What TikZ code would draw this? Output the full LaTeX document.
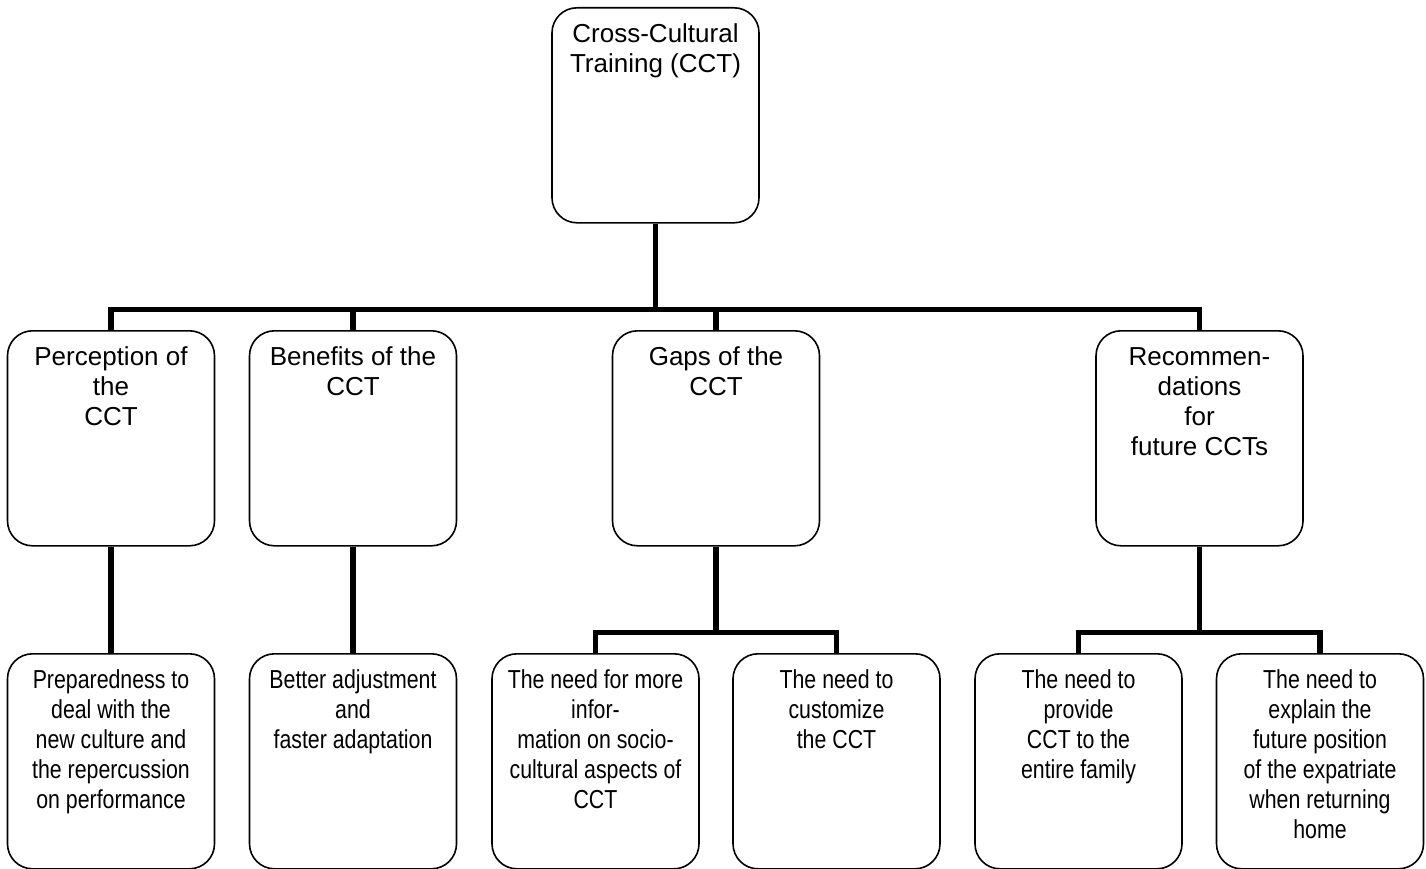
\documentclass[tikz,border=0pt]{standalone}
\usepackage{fontspec}
\setmainfont{Liberation Sans}
\newfontfamily\narrowfont{Liberation Sans}[FakeStretch=0.82]
\usepackage{tikz}

\newcommand{\celltext}[1]{\parbox[t][215pt][t]{207pt}{\fontsize{26}{30}\selectfont\centering\rule{0pt}{35pt}#1}}

\begin{document}
\begin{tikzpicture}
[x=1pt,y=-1pt,every node/.style={draw,rounded corners=25pt,line width=1.6pt,inner sep=0pt,anchor=north},
 link/.style={line width=5.5pt}]
\useasboundingbox (0,0) rectangle (1426,869);
\node (cct) at (655.5,7) {\celltext{Cross-Cultural\\Training (CCT)}};
\node (perc) at (111,330) {\celltext{Perception of\\the\\CCT}};
\node (bene) at (353,330) {\celltext{Benefits of the\\CCT}};
\node (gaps) at (716,330) {\celltext{Gaps of the\\CCT}};
\node (reco) at (1199.5,330) {\celltext{Recommen-\\dations\\for\\future CCTs}};
\node[font=\narrowfont] (prep) at (111,653) {\celltext{Preparedness to\\deal with the\\new culture and\\the repercussion\\on performance}};
\node[font=\narrowfont] (adj) at (353,653) {\celltext{Better adjustment\\and\\faster adaptation}};
\node[font=\narrowfont] (info) at (595.5,653) {\celltext{The need for more\\infor-\\mation on socio-\\cultural aspects of\\CCT}};
\node[font=\narrowfont] (cust) at (836.5,653) {\celltext{The need to\\customize\\the CCT}};
\node[font=\narrowfont] (fam) at (1078.5,653) {\celltext{The need to\\provide\\CCT to the\\entire family}};
\node[font=\narrowfont] (ret) at (1320,653) {\celltext{The need to\\explain the\\future position\\of the expatriate\\when returning\\home}};
\foreach \from/\to in {cct/perc,cct/bene,cct/gaps,cct/reco,perc/prep,bene/adj,gaps/info,gaps/cust,reco/fam,reco/ret}
\draw[link] (\from.south) -- ++(0,86) -| (\to.north);
\end{tikzpicture}
\end{document}
